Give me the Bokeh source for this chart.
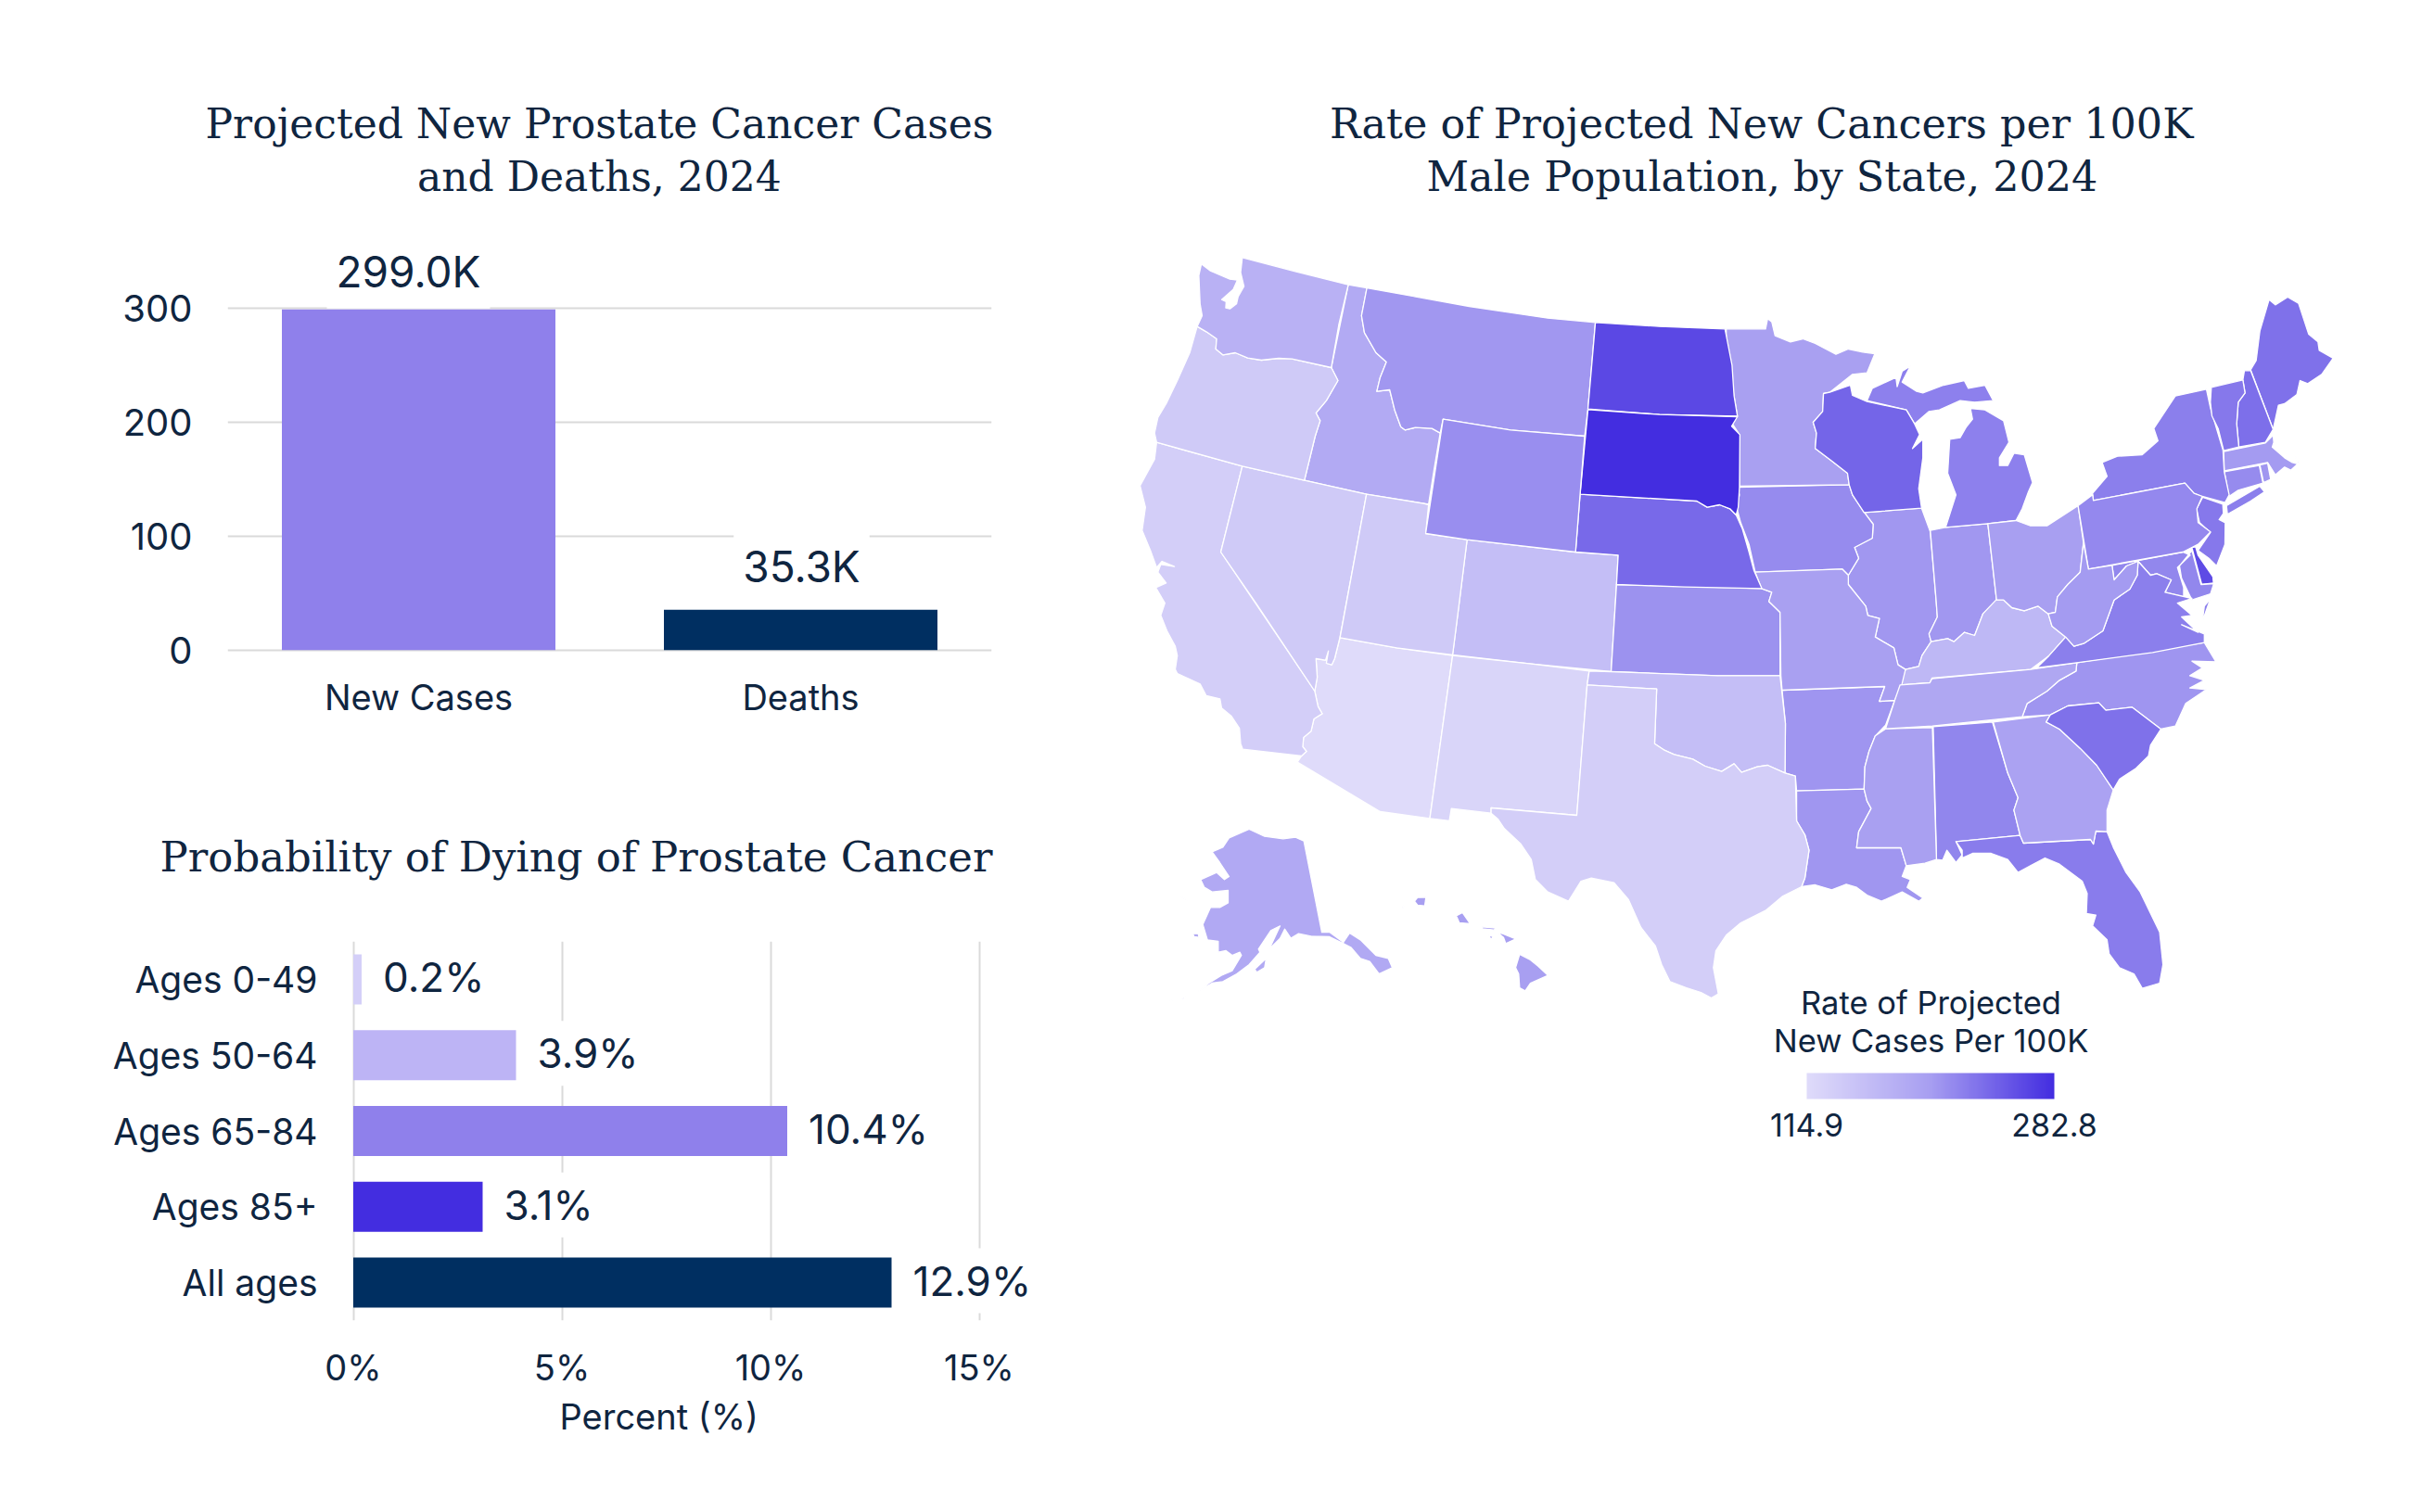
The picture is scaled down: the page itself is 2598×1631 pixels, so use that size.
from bokeh.plotting import figure
from bokeh.embed import file_html
from bokeh.resources import INLINE
from bokeh.layouts import row, column
from bokeh.models import (ColumnDataSource, FactorRange, Range1d, FixedTicker, Label, Title,
                          LinearColorMapper, ColorBar, PrintfTickFormatter)

INK = "#0F2540"
GRID = "#DADADA"
SANS = "Inter"
SERIF = "DejaVu Serif"

# chart 1
CASE_CATS = ["New Cases", "Deaths"]
CASE_VALS = [299.0, 35.3]
CASE_COLORS = ["#8F80EB", "#002F61"]
CASE_TICKS = [0, 100, 200, 300]

# chart 2
AGE_CATS = ["Ages 0-49", "Ages 50-64", "Ages 65-84", "Ages 85+", "All ages"]
AGE_VALS = [0.2, 3.9, 10.4, 3.1, 12.9]
AGE_COLORS = ["#D4CFF8", "#BDB4F5", "#8F80EB", "#432DE0", "#002F61"]
AGE_TICKS = [0, 5, 10, 15]

# map values
STATES = ["AL","AK","AZ","AR","CA","CO","CT","DE","FL","GA","HI","ID","IL","IN","IA","KS","KY","LA","ME","MD",
          "MA","MI","MN","MS","MO","MT","NE","NV","NH","NJ","NM","NY","NC","ND","OH","OK","OR","PA","RI","SC",
          "SD","TN","TX","UT","VT","VA","WA","WV","WI","WY"]
RATES = [217,184,114.9,206,133,155,213,260,224,193,197,182,204,204,213,208,164,205,232,216,
         201,221,196,196,196,204,238,139,234,227,124,222,206,263,197,155,139,215,205,232,
         282.8,187,133,139,227,222,172,201,241,210]
RATE_MIN, RATE_MAX = 114.9, 282.8
PALETTE_STOPS = [(0xDF, 0xDB, 0xFA), (0xA7, 0x9E, 0xF1), (0x43, 0x2D, 0xE0)]


# outlines; each helper reads one traced sheet into map units
def sheet(x0, y0, sx, sy):
    def read(s):
        return [(x0 + float(a.split(",")[0]) / sx, y0 + float(a.split(",")[1]) / sy) for a in s.split()]
    return read


a = sheet(1200, 250, 2.24, 3)
b = sheet(1200, 650, 2.24, 3)
c = sheet(1850, 300, 2.24, 3)
d = sheet(1850, 700, 2.24, 3)
e = sheet(1200, 880, 3, 3)
f = sheet(2250, 300, 3, 3)

OUTLINES = {
 "WA": [a("213,103 235,125 282,152 300,155 290,185 262,218 273,225 272,245 282,248 298,232 302,208 316,175 308,130 312,82 440,127 568,170 545,300 527,438 432,410 400,408 358,414 325,407 295,390 265,397 248,378 250,345 225,322 203,305 215,270 210,232 207,140")],
 "OR": [a("203,305 225,322 250,345 248,378 265,397 295,390 325,407 358,414 400,408 432,410 527,438 543,480 515,545 490,585 500,610 488,660 462,803 312,757 105,680 100,650 108,600 130,550 155,480 185,390")],
 "ID": [a("568,170 613,180 600,270 607,325 635,390 660,420 645,470 637,515 668,510 680,575 695,630 705,640 730,632 770,635 790,650 775,770 762,880 612,848 462,803 488,660 500,610 490,585 515,545 543,480 527,438")],
 "MT": [a("613,180 860,240 1050,278 1165,292 1147,572 1139,660 960,640 797,605 790,650 770,635 730,632 705,640 695,630 680,575 668,510 637,515 645,470 660,420 635,390 607,325 600,270")],
 "WY": [a("797,605 960,640 1139,660 1117,1035 855,995 755,975")],
 "ND": [a("1165,292 1320,305 1478,313 1495,430 1500,530 1508,595 1320,590 1147,572")],
 "SD": [a("1147,574 1320,590 1508,597 1494,628 1514,655 1513,825 1510,890 1505,915 1490,895 1465,882 1435,890 1410,870 1128,848")],
 "NE": [a("1128,848 1410,870 1435,890 1465,882 1490,895 1505,915 1520,960 1535,1030 1548,1095 1567,1153 1380,1148 1216,1140 1220,1045 1117,1035")],
 "NV": [a("312,757 462,803 612,848 548,1310") + b("535,180 528,200 515,195 520,155 513,185 490,180 493,240 487,285 345,0") + a("260,1035")],
 "CA": [a("105,680 312,757 260,1035") + b("487,285 495,335 505,358 485,375 478,415 460,435 458,465 467,480 455,495 313,473 308,455 305,405 285,365 262,340 258,310 225,300 210,262 155,228 150,215 155,170 150,140 130,90 115,40 125,0") + a("103,1150 128,1135 108,1100 115,1075 148,1082 118,1065 105,1085 90,1030 70,965 78,890 65,820 100,735")],
 "UT": [a("612,848 750,878 762,882 755,975 855,995") + b("836,0 820,168 685,145 548,112")],
 "CO": [a("855,995 1117,1035 1220,1045 1216,1140") + b("1203,222 1010,197 820,168")],
 "AZ": [b("548,112 685,145 820,170 765,697 645,675 445,515 455,495 467,480 458,465 460,435 478,415 485,375 505,358 495,335 487,285 493,240 490,180 513,185 520,155 515,195 528,200 535,180")],
 "NM": [b("820,170 1010,197 1150,220 1145,265 1120,687 913,663 913,680 817,665 812,705 765,697")],
 "OK": [b("1150,220 1203,222 1460,235") + d("155,85 168,240 167,400 125,375 100,380") + b("1518,548 1500,520 1470,545 1430,528 1400,505 1355,490 1330,475 1308,455 1313,278 1145,265")],
 "TX": [b("1145,265 1313,278 1308,455 1330,475 1355,490 1400,505 1430,528 1470,545 1500,520 1518,548") + d("100,380 125,375 167,400 192,410 195,555 215,600 225,650 215,740 207,768 160,800 120,845 60,885 25,925 0,975") + b("1450,1180 1462,1265 1445,1278 1420,1260 1385,1245 1345,1225 1325,1170 1310,1110 1275,1050 1245,960 1210,905 1155,890 1130,900 1100,965 1050,935 1020,895 1010,830 985,780 945,730 930,700 913,680 913,663 1120,687")],
 "KS": [a("1216,1140 1567,1153") + c("135,1015 128,1045 155,1080") + d("155,85") + b("1460,235 1203,222")],
 "MN": [c("25,163 120,163 125,130 135,140 143,185 180,205 210,195 240,210 290,245 320,228 355,238 384,243 365,305 330,310 275,368 260,372 258,430 235,465 243,500 240,550 280,590 318,630 322,667 57,672 57,505 40,470 52,445 40,350 25,240")],
 "IA": [c("52,675 322,667 330,700 355,750 380,795 378,840 335,870 345,905 320,960 305,940 95,950 80,860 60,790 50,740 57,700")],
 "MO": [c("95,950 305,940 320,960 320,990 362,1060 367,1090 395,1100 385,1160 430,1195 440,1250 458,1265 450,1310") + d("432,165 395,168 408,120 160,132 157,85") + c("155,1080 128,1045 135,1015 110,1003")],
 "AR": [d("160,132 408,120 395,168 432,165 410,245 385,280 370,330 360,380 358,452 195,458 192,410 167,400 168,240")],
 "LA": [d("195,458 358,452 365,490 375,515 345,590 340,642 447,642 460,700 450,735 470,745 462,770 500,805 490,815 450,785 400,815 365,795 340,770 315,760 280,778 240,762 207,768 215,740 225,650 215,600 195,555")],
 "MS": [d("410,257 523,253 533,680 505,692 460,700 447,642 340,642 345,590 375,515 365,490 358,452 360,380 370,330 385,280")],
 "AL": [d("525,250 668,235 705,400 730,480 720,520 735,602 580,622 595,665 580,690 558,650 548,682 533,680")],
 "GA": [d("670,235 808,212 798,235 830,258 880,320 920,375 960,455 945,520 945,590 918,588 912,630 905,615 743,627 735,602 720,520 730,480 705,400")],
 "FL": [d("580,622 735,602 743,627 905,615 912,630 918,588 945,590 960,640 990,720 1025,785 1072,915 1080,1020 1072,1080 1030,1097 1010,1050 975,1030 950,985 945,940 910,895 918,860 895,855 897,790 885,750 830,695 795,675 760,700 730,722 705,680 665,660 620,660 595,675 595,650")],
 "SC": [d("808,212 850,183 925,173 942,197 1005,187 1075,258 1050,310 1045,345 1015,385 975,420 960,455 920,375 880,320 830,258 798,235")],
 "NC": [d("872,43 1180,-22 1208,40 1150,38 1175,60 1145,85 1180,100 1145,125 1185,130 1135,175 1110,248 1075,258 1005,187 942,197 925,173 850,183 808,212 740,218 752,175 800,135 830,100 870,70")],
 "TN": [d("445,115 517,108 522,95 760,65 872,43 870,70 830,100 800,135 752,175 740,218 523,248 410,257 432,165")],
 "KY": [c("677,1040 695,1040 715,1065 745,1075 778,1060 803,1085 812,1125 845,1160 805,1220 760,1265 522,1293 517,1308 445,1315 458,1265 490,1255 498,1220 520,1175 560,1165 575,1175 600,1145 625,1155 645,1085")],
 "IL": [c("358,757 497,743 518,820 532,1040 535,1095 515,1150 520,1175 498,1220 490,1255 458,1265 440,1250 430,1195 385,1160 395,1100 367,1090 362,1060 320,990 320,960 345,905 335,870 378,840 380,795")],
 "IN": [c("518,815 555,805 657,793 678,1040 645,1085 625,1155 600,1145 575,1175 560,1165 520,1175 515,1150 535,1095 532,1040")],
 "WI": [c("260,372 275,368 325,345 330,378 365,398 460,425 480,470 492,505 475,550 500,520 500,580 490,680 497,743 358,757 330,700 322,667 318,630 280,590 240,550 243,500 235,465 258,430")],
 "MI": [c("365,395 378,355 435,320 438,350 450,300 470,283 450,335 485,365 500,370 550,345 600,330 610,355 650,345 670,395 625,400 590,395 540,425 515,430 480,470 460,425"),
        c("615,420 650,425 695,460 708,530 685,580 685,605 705,605 720,565 745,570 765,660 755,690 740,745 725,783 657,793 555,805 580,700 560,630 565,520 590,515 605,480 620,455")],
 "OH": [c("657,793 725,783 760,800 800,800 875,735 888,855 880,950 850,990 825,1030 820,1080 803,1085 778,1060 745,1075 715,1065 695,1040 678,1040")],
 "WV": [c("888,855 900,940 957,928 962,975 992,930 1020,915 1018,960 1000,1005 962,1040 935,1140 890,1180 865,1190 845,1160 812,1125 803,1085 820,1080 825,1030 850,990 880,950")],
 "MD": [c("957,928 1128,885 1146,895 1115,935 1130,1000 1130,1030 1085,1015 1100,975 1065,955 1050,960 1020,915 992,930 962,975"),
        c("1150,880 1172,990 1203,987 1195,1020 1150,1040 1125,970 1120,930")],
 "VA": [c("775,1260 805,1220 845,1160 865,1190 890,1180 935,1140 962,1040 1000,1005 1018,960 1020,915 1050,960 1065,955 1100,975 1085,1015 1150,1035 1115,1050 1150,1090 1125,1095 1165,1145 1125,1120 1180,1150 1180,1178 1055,1210 872,1243"),
        c("1195,1035 1175,1110 1180,1060")],
 "PA": [c("875,735 910,700 912,718 1133,662 1155,695 1175,705 1162,745 1165,790 1195,820 1165,860 1128,885 900,940")],
 "NY": [c("912,718 910,695 945,640 933,595 970,575 1030,570 1068,525 1058,485 1110,380 1185,358 1195,420 1225,555 1228,625 1240,700 1230,725 1175,705 1155,695 1133,662"),
        f("452,735 560,672 575,690 530,720 455,763")],
 "VT": [f("403,352 505,328 512,370 490,400 485,470 492,545 443,557 425,485 405,445 400,400")],
 "NH": [f("510,298 530,298 603,488 578,530 492,545 485,470 490,400 512,370 505,328")],
 "ME": [f("530,295 548,265 560,170 590,68 610,85 650,60 685,80 718,180 748,205 752,232 797,258 760,310 715,340 690,330 680,375 640,405 620,410 603,488")],
 "MA": [f("443,560 578,532 603,507 605,530 600,545 640,580 665,595 685,600 672,572 688,595 660,620 640,610 610,635 585,595 445,622")],
 "CT": [f("445,625 558,605 570,662 490,685 460,705")],
 "RI": [f("560,603 585,597 595,650 572,660")],
 "NJ": [f("375,708 440,730 442,760 428,780 448,790 447,860 420,930 395,905 360,880 400,822 365,790 355,745")],
 "DE": [f("340,870 352,868 360,895 408,965 410,985 372,990")],
 "AK": [e("320,115 355,100 375,70 440,42 490,65 550,73 590,68 617,80 675,375 700,375 745,408 765,378 800,400 850,450 890,460 903,490 860,510 830,470 800,460 770,425 745,412 700,390 640,388 600,380 575,395 555,365 540,395 505,430 540,355 510,370 470,430 475,440 440,480 400,510 355,535 320,540 270,570 310,540 350,515 385,500 415,450 410,440 385,450 365,435 340,440 340,405 305,400 290,350 315,295 345,295 372,280 372,240 320,245 295,230 283,205 335,182 360,205 375,195 345,150"),
        e("458,495 495,460 490,490 465,505"), e("213,257 245,275 225,262"), e("258,380 275,380 278,392 262,390"),
        e("60,600 75,606 66,602"), e("180,600 200,590 190,598"), e("220,590 235,583 228,592")],
 "HI": [e("1315,447 1350,465 1375,485 1407,515 1350,540 1333,565 1315,555 1312,510 1302,490"),
        e("1245,377 1260,380 1303,397 1270,412 1263,392"), e("1193,358 1238,362 1232,368 1195,364"),
        e("1215,385 1230,390 1222,398"), e("1130,312 1155,348 1120,345 1110,322"),
        e("985,263 1012,262 1008,290 985,288 975,275"), e("933,295 945,285 938,297")],
}


def ramp(stops, n=256):
    out = []
    m = len(stops) - 1
    for i in range(n):
        t = i / (n - 1) * m
        k = min(int(t), m - 1)
        u = t - k
        rgb = [round(stops[k][j] + (stops[k + 1][j] - stops[k][j]) * u) for j in range(3)]
        out.append("#%02X%02X%02X" % tuple(rgb))
    return out


def clean(p):
    p.outline_line_color = None
    p.background_fill_color = None
    p.border_fill_color = None
    for ax in p.axis:
        ax.axis_line_color = None
        ax.major_tick_line_color = None
        ax.minor_tick_line_color = None
        ax.major_label_text_font = SANS
        ax.major_label_text_color = INK
        ax.major_label_text_font_size = "38px"
        ax.major_label_text_font_style = "normal"


def heading(p, lines, size, standoffs):
    # nearest line first: Bokeh stacks "above" items outwards from the frame
    for (text, offset), standoff in zip(reversed(lines), standoffs):
        p.add_layout(Title(text=text, align="left", text_font=SERIF, text_font_size=size, text_color=INK,
                           text_font_style="normal", standoff=standoff, offset=offset), "above")


def tag(text, x, y, dx, dy, align, size, pad):
    return Label(x=x, y=y, text=text, x_offset=dx, y_offset=dy, text_align=align, text_baseline="middle",
                 text_font=SANS, text_font_size=size, text_color=INK, background_fill_color="white", padding=pad)


# ---------- chart 1
src1 = ColumnDataSource(dict(cat=CASE_CATS, val=CASE_VALS, color=CASE_COLORS))
p1 = figure(width=1150, height=830, x_range=FactorRange(*CASE_CATS, range_padding=0),
            y_range=Range1d(-10, 393.6), output_backend="svg", toolbar_location=None, frame_align=False,
            min_border_left=245, min_border_right=81, min_border_top=217, min_border_bottom=117)
heading(p1, [("Projected New Prostate Cancer Cases", -24), ("and Deaths, 2024", 204.5)], "44px", [4, 4])
p1.vbar(x="cat", top="val", bottom=0, width=0.716, color="color", source=src1, line_color=None)
p1.yaxis.ticker = FixedTicker(ticks=CASE_TICKS)
clean(p1)
p1.yaxis.major_label_text_font_size = "40px"
p1.yaxis.major_label_standoff = 32
p1.xaxis.major_label_standoff = 9
p1.xgrid.visible = False
p1.ygrid.grid_line_color = GRID
p1.ygrid.grid_line_width = 2
p1.ygrid.ticker = FixedTicker(ticks=CASE_TICKS)
for i, (val, dx, dy) in enumerate(zip(CASE_VALS, [-11, 1], [41, 47])):
    p1.add_layout(tag(f"{val:.1f}K", i + 0.5, val, dx, dy, "center", "46px", (10, 12)))

# ---------- chart 2
src2 = ColumnDataSource(dict(cat=AGE_CATS, val=AGE_VALS, color=AGE_COLORS))
p2 = figure(width=1150, height=790, y_range=FactorRange(*reversed(AGE_CATS), range_padding=0),
            x_range=Range1d(-0.5, 16.5), output_backend="svg", toolbar_location=None, frame_align=False,
            min_border_left=358, min_border_right=27, min_border_top=183, min_border_bottom=196)
heading(p2, [("Probability of Dying of Prostate Cancer", -186)], "45px", [130])
p2.hbar(y="cat", right="val", left=0, height=0.66, color="color", source=src2, line_color=None)
p2.xaxis.ticker = FixedTicker(ticks=AGE_TICKS)
p2.xaxis.formatter = PrintfTickFormatter(format="%d%%")
clean(p2)
p2.yaxis.major_label_text_font_size = "39px"
p2.yaxis.major_label_standoff = 10
p2.xaxis.major_label_standoff = 21
p2.add_layout(Title(text="Percent (%)", align="left", offset=245, text_font=SANS, text_font_size="38px",
                    text_font_style="normal", text_color=INK, standoff=4), "below")
p2.ygrid.visible = False
p2.xgrid.grid_line_color = GRID
p2.xgrid.grid_line_width = 2
p2.xgrid.ticker = FixedTicker(ticks=AGE_TICKS)
for i, val in enumerate(AGE_VALS):
    p2.add_layout(tag(f"{val}%", val, len(AGE_VALS) - i - 0.5, 5, 2, "left", "44px", (18, 8)))

# ---------- map
mapper = LinearColorMapper(palette=ramp(PALETTE_STOPS), low=RATE_MIN, high=RATE_MAX)
xs, ys = [], []
for st in STATES:
    xs.append([[[pt[0] for pt in part]] for part in OUTLINES[st]])
    ys.append([[[pt[1] for pt in part]] for part in OUTLINES[st]])
src3 = ColumnDataSource(dict(xs=xs, ys=ys, state=STATES, rate=RATES))
p3 = figure(width=1440, height=1308, x_range=Range1d(1150, 2590), y_range=Range1d(1308, 217),
            output_backend="svg", toolbar_location=None, frame_align=False,
            min_border_left=0, min_border_right=0, min_border_top=217, min_border_bottom=0)
heading(p3, [("Rate of Projected New Cancers per 100K", 283.5), ("Male Population, by State, 2024", 388)], "44.5px", [4, 4])
p3.multi_polygons(xs="xs", ys="ys", source=src3, fill_color={"field": "rate", "transform": mapper},
                  line_color="white", line_width=1.3, line_join="round")
p3.axis.visible = False
p3.grid.visible = False
clean(p3)
cb = ColorBar(color_mapper=mapper, ticker=FixedTicker(ticks=[RATE_MIN, RATE_MAX]), width=267, height=28,
              orientation="horizontal", location=(798, 80), padding=0, margin=0, major_tick_line_color=None,
              bar_line_color=None, major_label_text_font=SANS, major_label_text_font_size="34px",
              major_label_text_color=INK, label_standoff=15, background_fill_color=None, border_line_color=None)
p3.add_layout(cb)
p3.add_layout(Label(x=2082, y=1101, text="Rate of Projected\nNew Cases Per 100K", text_align="center",
                    text_baseline="middle", text_font=SANS, text_font_size="34.5px", text_color=INK,
                    text_line_height=1.0))

layout = row(column(p1, p2, spacing=0), p3, spacing=0)
open("out.html", "w").write(file_html(layout, INLINE))
